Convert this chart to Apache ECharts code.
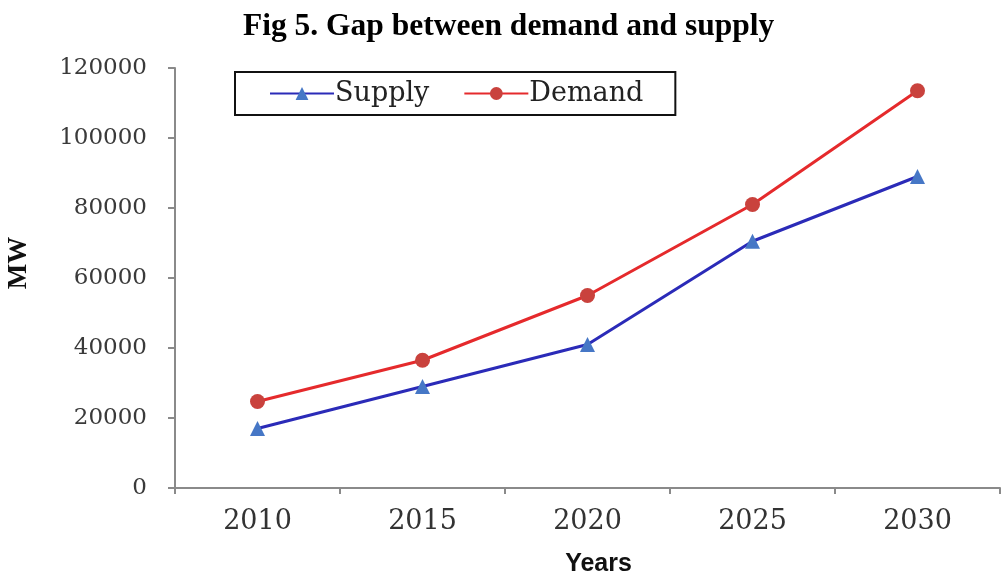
<!DOCTYPE html>
<html>
<head>
<meta charset="utf-8">
<title>Gap between demand and supply</title>
<script src="https://cdn.jsdelivr.net/npm/echarts@6/dist/echarts.min.js"></script>
<style>
  html, body { margin: 0; padding: 0; background: #ffffff; }
  #chart { width: 1002px; height: 573px; }
</style>
</head>
<body>
<div id="chart"></div>
<script>
// Forecast of electricity supply and demand (MW)
const years = ['2010', '2015', '2020', '2025', '2030'];
const supply = [17000, 29000, 41000, 70500, 89000];
const demand = [24700, 36500, 55000, 81000, 113500];
const yTicks = { min: 0, max: 120000, interval: 20000 };

const chart = echarts.init(document.getElementById('chart'), null, { renderer: 'canvas' });

const axisGrey = '#8a8a8a';
const labelFont = 'DejaVu Serif';

chart.setOption({
  backgroundColor: '#ffffff',
  animation: false,
  title: {
    text: 'Fig 5. Gap between demand and supply',
    left: 243,
    top: 11,
    padding: 0,
    textStyle: {
      fontFamily: 'Liberation Serif',
      fontWeight: 'bold',
      fontSize: 31.5,
      color: '#000000'
    }
  },
  legend: {
    left: 235,
    top: 72,
    orient: 'horizontal',
    padding: [8, 32, 8, 34],
    itemGap: 34,
    itemWidth: 64,
    itemHeight: 16,
    borderColor: '#111111',
    borderWidth: 2,
    backgroundColor: '#ffffff',
    textStyle: {
      fontFamily: labelFont,
      fontSize: 27,
      color: '#222222',
      padding: [0, 0, 0, -4]
    },
    data: ['Supply', 'Demand']
  },
  grid: {
    left: 175,
    right: 2,
    top: 68,
    bottom: 85,
    containLabel: false,
    outerBoundsMode: 'none'
  },
  xAxis: {
    type: 'category',
    data: years,
    boundaryGap: true,
    name: 'Years',
    nameLocation: 'middle',
    nameGap: 64,
    nameTextStyle: {
      fontFamily: 'Liberation Sans',
      fontWeight: 'bold',
      fontSize: 25,
      color: '#111111',
      padding: [0, 0, 0, 22]
    },
    axisLine: { lineStyle: { color: axisGrey, width: 2 } },
    axisTick: { show: true, alignWithLabel: false, length: 6, lineStyle: { color: axisGrey, width: 2 } },
    axisLabel: {
      margin: 20,
      fontFamily: labelFont,
      fontSize: 27,
      color: '#333333'
    },
    splitLine: { show: false }
  },
  yAxis: {
    type: 'value',
    min: yTicks.min,
    max: yTicks.max,
    interval: yTicks.interval,
    name: 'MW',
    nameLocation: 'middle',
    nameRotate: 90,
    nameGap: 142,
    nameTextStyle: {
      fontFamily: 'Liberation Serif',
      fontWeight: 'bold',
      fontSize: 27,
      color: '#111111',
      padding: [0, 0, 0, 30]
    },
    axisLine: { show: true, lineStyle: { color: axisGrey, width: 2 } },
    axisTick: { show: true, length: 7, lineStyle: { color: axisGrey, width: 2 } },
    axisLabel: {
      margin: 28,
      fontFamily: labelFont,
      fontSize: 23,
      color: '#3a3a3a',
      formatter: function (v) { return String(v); }
    },
    splitLine: { show: false }
  },
  series: [
    {
      name: 'Supply',
      type: 'line',
      data: supply,
      symbol: 'triangle',
      symbolSize: 15,
      lineStyle: { color: '#2b2bb8', width: 3 },
      itemStyle: { color: '#4677c6', borderWidth: 0 }
    },
    {
      name: 'Demand',
      type: 'line',
      data: demand,
      symbol: 'circle',
      symbolSize: 15,
      lineStyle: { color: '#e52a2c', width: 3 },
      itemStyle: { color: '#c9423d', borderWidth: 0 }
    }
  ]
});
</script>
</body>
</html>
